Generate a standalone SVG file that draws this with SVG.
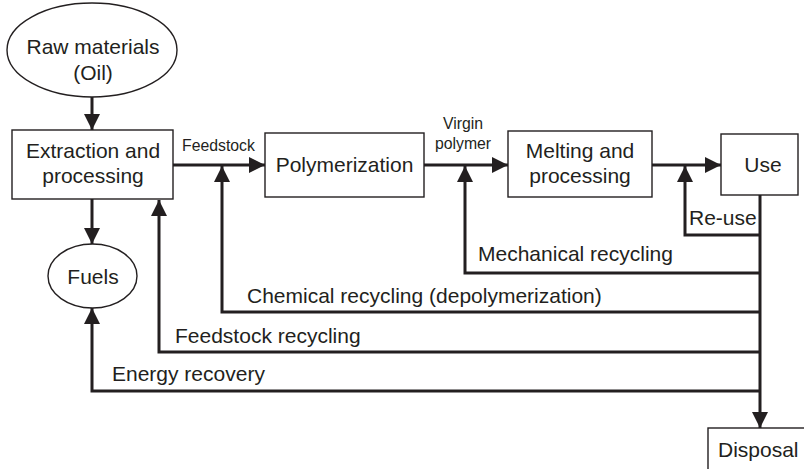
<svg xmlns="http://www.w3.org/2000/svg" width="804" height="469" viewBox="0 0 804 469">
<style>
.box{fill:#fff;stroke:#231f20;stroke-width:1.4}
.lbl{font-family:"Liberation Sans",Arial,sans-serif;font-size:21px;fill:#231f20}
.sm{font-family:"Liberation Sans",Arial,sans-serif;font-size:15.8px;fill:#231f20}
.c{text-anchor:middle}
.conn{fill:none;stroke:#231f20;stroke-width:3;stroke-linejoin:miter}
</style>
<defs>
<marker id="ah" viewBox="0 0 16 16" refX="16" refY="8" markerWidth="16" markerHeight="16" markerUnits="userSpaceOnUse" orient="auto">
<path d="M0,0 L16,8 L0,16 z" fill="#231f20"/>
</marker>
</defs>
<rect width="804" height="469" fill="#fff"/>
<g id="connectors">
<path class="conn" d="M92,97 V130" marker-end="url(#ah)"/>
<path class="conn" d="M92,199 V244" marker-end="url(#ah)"/>
<path class="conn" d="M173,165 H265" marker-end="url(#ah)"/>
<path class="conn" d="M424,165 H508" marker-end="url(#ah)"/>
<path class="conn" d="M652,165 H721" marker-end="url(#ah)"/>
<path class="conn" d="M760,195 V428" marker-end="url(#ah)"/>
<path class="conn" d="M760,235 H685 V166" marker-end="url(#ah)"/>
<path class="conn" d="M760,273 H465 V166" marker-end="url(#ah)"/>
<path class="conn" d="M760,312 H222 V166" marker-end="url(#ah)"/>
<path class="conn" d="M760,352 H159 V200" marker-end="url(#ah)"/>
<path class="conn" d="M760,391 H92 V308" marker-end="url(#ah)"/>
<text class="sm" x="182" y="151">Feedstock</text>
<text class="sm c" x="463" y="129">Virgin</text>
<text class="sm c" x="463" y="149">polymer</text>
<text class="lbl" x="689" y="225">Re-use</text>
<text class="lbl" x="478" y="261">Mechanical recycling</text>
<text class="lbl" x="247" y="303">Chemical recycling (depolymerization)</text>
<text class="lbl" x="175" y="343">Feedstock recycling</text>
<text class="lbl" x="112" y="381">Energy recovery</text>
</g>
<g id="raw">
<ellipse class="box" cx="92" cy="50" rx="85" ry="47"/>
<text class="lbl c" x="93" y="54">Raw materials</text>
<text class="lbl c" x="93" y="80">(Oil)</text>
</g>
<g id="extraction">
<rect class="box" x="12" y="130" width="161" height="69"/>
<text class="lbl c" x="93" y="158">Extraction and</text>
<text class="lbl c" x="93" y="183">processing</text>
</g>
<g id="fuels">
<ellipse class="box" cx="92.5" cy="276" rx="44.5" ry="32"/>
<text class="lbl c" x="93" y="284">Fuels</text>
</g>
<g id="polymerization">
<rect class="box" x="265" y="133" width="159" height="64"/>
<text class="lbl c" x="344.5" y="172">Polymerization</text>
</g>
<g id="melting">
<rect class="box" x="508" y="131" width="144" height="66"/>
<text class="lbl c" x="580" y="158">Melting and</text>
<text class="lbl c" x="580" y="183">processing</text>
</g>
<g id="use">
<rect class="box" x="721" y="134" width="77" height="61"/>
<text class="lbl c" x="763" y="172">Use</text>
</g>
<g id="disposal">
<rect class="box" x="708" y="428" width="110" height="60"/>
<text class="lbl" x="718" y="457">Disposal</text>
</g>
</svg>
